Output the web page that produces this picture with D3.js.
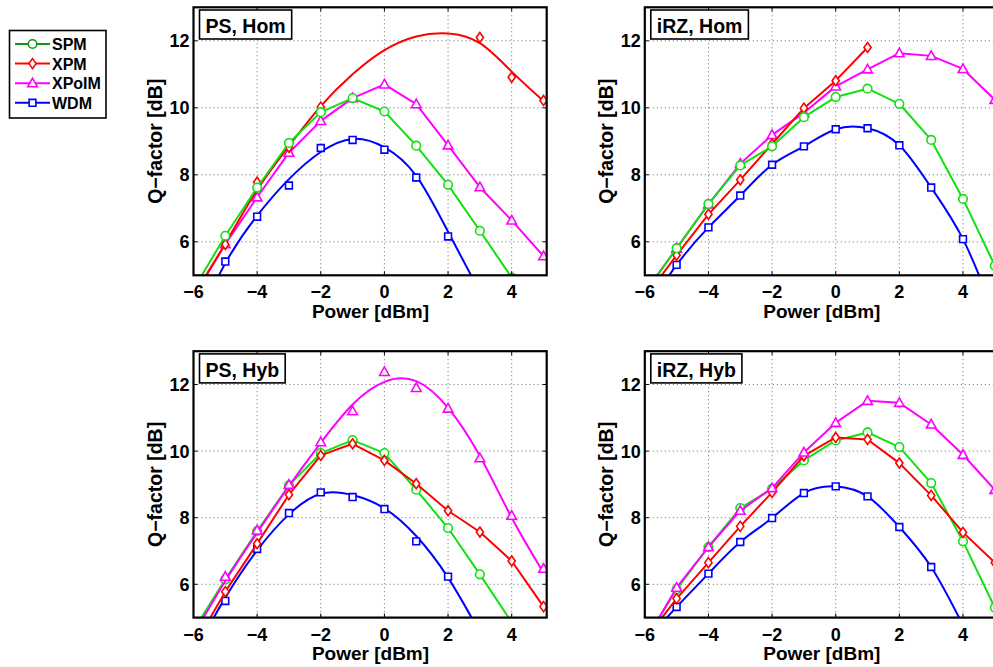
<!DOCTYPE html>
<html><head><meta charset="utf-8">
<script src="https://cdn.jsdelivr.net/npm/d3@7"></script>
<style>
body{margin:0;background:#fff;overflow:hidden}
svg{display:block}
text{font-family:"Liberation Sans",Arial,Helvetica,sans-serif;font-weight:bold;fill:#000}
</style></head>
<body><svg id="c" width="993" height="667"></svg>
<script>
// ---------------- data ----------------
const powers = [-6, -5, -4, -3, -2, -1, 0, 1, 2, 3, 4, 5];
const xTicks = [-6, -4, -2, 0, 2, 4];
const yTicks = [6, 8, 10, 12];
const seriesNames = ["SPM", "XPM", "XPoIM", "WDM"];
const panelTitles = ["PS, Hom", "iRZ, Hom", "PS, Hyb", "iRZ, Hyb"];
const xLabel = "Power [dBm]";
const yLabel = "Q\u2212factor [dB]";

// PS, Hom
const psHomSPM   = [4.58, 6.18, 7.62, 8.95, 9.87, 10.29, 9.89, 8.87, 7.70, 6.33, 4.93, null];
const psHomXPM   = [null, 5.92, 7.78, 8.82, 10.02, null, null, null, null, 12.10, 10.91, 10.22];
const psHomXPMFit= [4.40, 5.95, 7.55, 8.86, 10.05, 11.00, 11.72, 12.13, 12.22, 11.93, 11.08, 10.20];
const psHomXPoIM = [4.35, 5.93, 7.33, 8.66, 9.61, 10.29, 10.70, 10.11, 8.88, 7.63, 6.64, 5.57];
const psHomWDM   = [null, 5.41, 6.75, 7.68, 8.80, 9.04, 8.75, 7.92, 6.16, null, null, null];
const psHomWDMFit= [3.40, 5.36, 6.78, 7.87, 8.68, 9.07, 8.82, 7.97, 6.30, 4.50, null, null];

// iRZ, Hom
const irzHomSPM   = [4.46, 5.81, 7.13, 8.28, 8.85, 9.72, 10.32, 10.57, 10.12, 9.04, 7.28, 5.29];
const irzHomXPM   = [4.32, 5.60, 6.82, 7.85, 8.92, 9.99, 10.81, 11.80, null, null, null, null];
const irzHomXPoIM = [4.50, 5.80, 7.12, 8.33, 9.19, 9.85, 10.64, 11.15, 11.63, 11.55, 11.16, 10.24];
const irzHomWDM   = [3.90, 5.31, 6.43, 7.38, 8.30, 8.85, 9.36, 9.39, 8.88, 7.62, 6.08, 3.83];

// PS, Hyb
const psHybSPM     = [4.62, 6.15, 7.60, 8.97, 9.94, 10.33, 9.94, 8.84, 7.69, 6.30, 4.86, null];
const psHybXPM     = [4.12, 5.78, 7.22, 8.69, 9.87, 10.22, 9.72, 9.02, 8.21, 7.57, 6.70, 5.33];
const psHybXPoIM   = [null, 6.23, 7.62, 8.99, 10.27, 11.20, 12.38, 11.90, 11.28, 9.79, 8.06, 6.47];
const psHybXPoIMFit= [4.48, 6.10, 7.55, 8.95, 10.25, 11.40, 12.08, 12.10, 11.30, 9.85, 8.00, 6.35];
const psHybWDM     = [null, 5.50, 7.06, 8.14, 8.76, 8.62, 8.26, 7.29, 6.23, null, null, null];
const psHybWDMFit  = [3.90, 5.60, 7.02, 8.10, 8.72, 8.68, 8.28, 7.45, 6.20, 4.55, null, null];

// iRZ, Hyb
const irzHybSPM   = [4.30, 5.85, 7.12, 8.29, 8.87, 9.72, 10.32, 10.56, 10.12, 9.04, 7.29, 5.30];
const irzHybXPM   = [4.33, 5.57, 6.65, 7.74, 8.76, 9.86, 10.41, 10.35, 9.64, 8.67, 7.56, 6.65];
const irzHybXPoIM = [4.26, 5.90, 7.12, 8.21, 8.89, 9.96, 10.85, 11.51, 11.45, 10.80, 9.89, 8.84];
const irzHybWDM   = [4.25, 5.32, 6.32, 7.27, 7.99, 8.74, 8.94, 8.64, 7.72, 6.52, 4.77, null];

// ---------------- styles / layout ----------------
const colors = {SPM: "#11e011", XPM: "#ff0000", XPoIM: "#ff00ff", WDM: "#0000ff"};
const legendColors = {SPM: "#119911", XPM: "#ff0000", XPoIM: "#ff00ff", WDM: "#0000ff"};
function markerD(name) {
  if (name === "SPM") return "M4.3,0A4.3,4.3 0 1,1 -4.3,0A4.3,4.3 0 1,1 4.3,0Z";
  if (name === "XPM") return "M0,-5L3.6,0L0,5L-3.6,0Z";
  if (name === "XPoIM") return "M0,-5L4.8,3.6L-4.8,3.6Z";
  return "M-3.4,-3.4H3.4V3.4H-3.4Z";
}

const panelData = [
  {marks: {SPM: psHomSPM, XPM: psHomXPM, XPoIM: psHomXPoIM, WDM: psHomWDM},
   fits: {SPM: psHomSPM, XPM: psHomXPMFit, XPoIM: psHomXPoIM, WDM: psHomWDMFit},
   smooth: {XPM: true, WDM: true}, order: ["WDM", "XPoIM", "XPM", "SPM"]},
  {marks: {SPM: irzHomSPM, XPM: irzHomXPM, XPoIM: irzHomXPoIM, WDM: irzHomWDM},
   fits: {SPM: irzHomSPM, XPM: irzHomXPM, XPoIM: irzHomXPoIM, WDM: irzHomWDM},
   smooth: {WDM: true}, order: ["WDM", "XPoIM", "XPM", "SPM"]},
  {marks: {SPM: psHybSPM, XPM: psHybXPM, XPoIM: psHybXPoIM, WDM: psHybWDM},
   fits: {SPM: psHybSPM, XPM: psHybXPM, XPoIM: psHybXPoIMFit, WDM: psHybWDMFit},
   smooth: {XPoIM: true, WDM: true}, order: ["WDM", "SPM", "XPM", "XPoIM"]},
  {marks: {SPM: irzHybSPM, XPM: irzHybXPM, XPoIM: irzHybXPoIM, WDM: irzHybWDM},
   fits: {SPM: irzHybSPM, XPM: irzHybXPM, XPoIM: irzHybXPoIM, WDM: irzHybWDM},
   smooth: {WDM: true}, order: ["WDM", "SPM", "XPM", "XPoIM"]}
];
const boxes = [
  {left: 193.5, top: 7.3, bottom: 275.3},
  {left: 644.8, top: 7.3, bottom: 275.3},
  {left: 193.5, top: 351.2, bottom: 617.6},
  {left: 644.8, top: 351.2, bottom: 617.6}
];
const panelW = 353.2;

const svg = d3.select("#c");
const defs = svg.append("defs");

panelData.forEach((pd, i) => {
  const b = boxes[i];
  const x = d3.scaleLinear().domain([-6, 5.1]).range([b.left, b.left + panelW]);
  const y = d3.scaleLinear().domain([5, 13]).range([b.bottom, b.top]);
  const g = svg.append("g");
  const cid = "clip" + i;
  defs.append("clipPath").attr("id", cid).append("rect")
    .attr("x", b.left).attr("y", b.top).attr("width", panelW).attr("height", b.bottom - b.top);

  // grid
  const grid = g.append("g").attr("stroke", "#444").attr("stroke-width", 0.8)
    .attr("stroke-dasharray", "1,3");
  xTicks.forEach(t => grid.append("line").attr("x1", x(t)).attr("x2", x(t))
    .attr("y1", b.top).attr("y2", b.bottom));
  yTicks.forEach(t => grid.append("line").attr("y1", y(t)).attr("y2", y(t))
    .attr("x1", b.left).attr("x2", b.left + panelW));

  // series
  const plot = g.append("g").attr("clip-path", `url(#${cid})`);
  pd.order.forEach(name => {
    const fit = pd.fits[name];
    const pts = powers.map((p, k) => [p, fit[k]]).filter(d => d[1] !== null);
    const line = d3.line()
      .x(d => x(d[0])).y(d => y(d[1]))
      .curve(pd.smooth[name] ? d3.curveNatural : d3.curveLinear);
    plot.append("path").attr("d", line(pts))
      .attr("fill", "none").attr("stroke", colors[name]).attr("stroke-width", 2)
      .attr("stroke-linejoin", "round");
    const mk = powers.map((p, k) => [p, pd.marks[name][k]]).filter(d => d[1] !== null);
    plot.selectAll(null).data(mk).enter().append("path")
      .attr("d", markerD(name))
      .attr("transform", d => `translate(${x(d[0])},${y(d[1])})`)
      .attr("fill", "#fff").attr("stroke", colors[name]).attr("stroke-width", 1.6);
  });

  // axes box and ticks
  const ax = g.append("g").attr("stroke", "#000").attr("fill", "none");
  xTicks.forEach(t => {
    ax.append("line").attr("x1", x(t)).attr("x2", x(t)).attr("y1", b.bottom).attr("y2", b.bottom - 4).attr("stroke-width", 1);
    ax.append("line").attr("x1", x(t)).attr("x2", x(t)).attr("y1", b.top).attr("y2", b.top + 4).attr("stroke-width", 1);
  });
  yTicks.forEach(t => {
    ax.append("line").attr("x1", b.left).attr("x2", b.left + 4).attr("y1", y(t)).attr("y2", y(t)).attr("stroke-width", 1);
    ax.append("line").attr("x1", b.left + panelW).attr("x2", b.left + panelW - 4).attr("y1", y(t)).attr("y2", y(t)).attr("stroke-width", 1);
  });
  ax.append("rect").attr("x", b.left).attr("y", b.top).attr("width", panelW)
    .attr("height", b.bottom - b.top).attr("stroke-width", 2.2);

  // tick labels
  xTicks.forEach(t => g.append("text").attr("x", x(t)).attr("y", b.bottom + 23)
    .attr("text-anchor", "middle").style("font-size", "18px")
    .text(t < 0 ? "\u2212" + Math.abs(t) : String(t)));
  yTicks.forEach(t => g.append("text").attr("x", b.left - 4).attr("y", y(t) + 6.4)
    .attr("text-anchor", "end").style("font-size", "18px").text(String(t)));

  // axis labels
  g.append("text").attr("x", b.left + 177).attr("y", b.bottom + 42.5)
    .attr("text-anchor", "middle").style("font-size", "19px").text(xLabel);
  g.append("text").attr("transform", `translate(${b.left - 31.5},${(b.top + b.bottom) / 2}) rotate(-90)`)
    .attr("text-anchor", "middle").style("font-size", "19.5px").text(yLabel);

  // title box
  const tb = g.append("g");
  const rect = tb.append("rect").attr("x", b.left + 6).attr("y", b.top + 2.7)
    .attr("height", 29).attr("fill", "#fff").attr("stroke", "#000").attr("stroke-width", 1.6);
  const tt = tb.append("text").attr("x", b.left + 12).attr("y", b.top + 25.4)
    .style("font-size", "19.5px").text(panelTitles[i]);
  rect.attr("width", tt.node().getComputedTextLength() + 12);
});

// legend
const lg = svg.append("g");
lg.append("rect").attr("x", 9.5).attr("y", 30.5).attr("width", 96.5).attr("height", 87.5)
  .attr("fill", "#fff").attr("stroke", "#000").attr("stroke-width", 1.6);
seriesNames.forEach((name, k) => {
  const yy = 44 + k * 19.6;
  lg.append("line").attr("x1", 15).attr("x2", 50).attr("y1", yy).attr("y2", yy)
    .attr("stroke", legendColors[name]).attr("stroke-width", 2);
  lg.append("path").attr("d", markerD(name)).attr("transform", `translate(32.5,${yy})`)
    .attr("fill", "#fff").attr("stroke", legendColors[name]).attr("stroke-width", 1.6);
  lg.append("text").attr("x", 52).attr("y", yy + 6).style("font-size", "16px").text(name);
});
</script></body></html>
